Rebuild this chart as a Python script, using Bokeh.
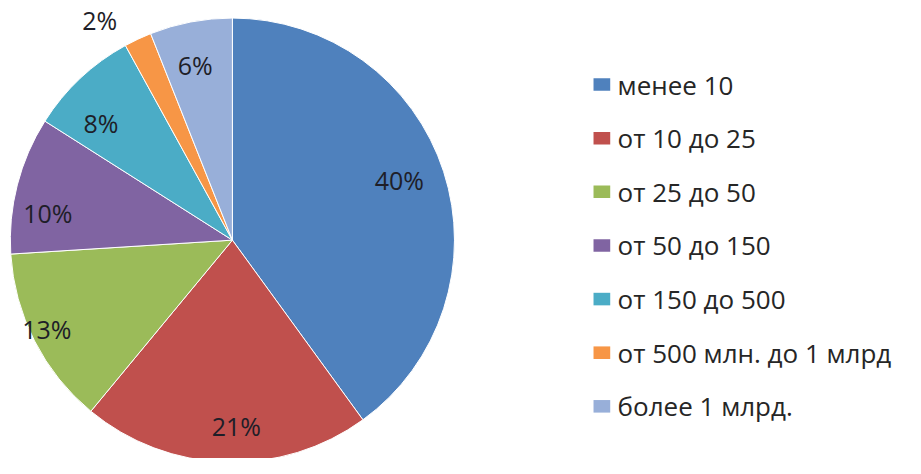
import math
from bokeh.plotting import figure
from bokeh.models import Range1d, ColumnDataSource
from bokeh.core.properties import value
from bokeh.embed import file_html
from bokeh.resources import INLINE

categories = ["менее 10", "от 10 до 25", "от 25 до 50", "от 50 до 150",
              "от 150 до 500", "от 500 млн. до 1 млрд", "более 1 млрд."]
shares = [40, 21, 13, 10, 8, 2, 6]
labels = ["40%", "21%", "13%", "10%", "8%", "2%", "6%"]
colors = ["#4F81BD", "#C0504D", "#9BBB59", "#8064A2", "#4BACC6", "#F79646", "#98AFD9"]
# label placement: radius factor and angle offset (degrees) relative to slice middle
label_rfac = [0.80, 0.85, 0.93, 0.84, 0.80, 1.17, 0.82]
label_dang = [2, 3, -1, 6, 4.5, 5.5, 1]

W, H = 905, 458
CX, CY, R = 236, -248, 226
FONT = "Open Sans"

p = figure(width=W, height=H, x_range=Range1d(0, 921), y_range=Range1d(-474, 0),
           output_backend="svg", toolbar_location=None, min_border=0)
p.axis.visible = False
p.grid.visible = False
p.outline_line_color = None
p.background_fill_color = "white"

total = float(sum(shares))
starts, ends, lx, ly = [], [], [], []
cum = 0.0
for s, f, da in zip(shares, label_rfac, label_dang):
    a0 = math.pi / 2 - 2 * math.pi * cum / total
    cum += s
    a1 = math.pi / 2 - 2 * math.pi * cum / total
    starts.append(a0)
    ends.append(a1)
    mid = (a0 + a1) / 2 + math.radians(da)
    lx.append(CX + f * R * math.cos(mid))
    ly.append(CY + f * R * math.sin(mid))

src = ColumnDataSource(dict(start=starts, end=ends, color=colors, lx=lx, ly=ly, label=labels))
p.wedge(x=CX, y=CY, radius=R, start_angle="start", end_angle="end", direction="clock",
        fill_color="color", line_color="white", line_width=1, source=src)
p.text(x="lx", y="ly", text="label", source=src, text_font=value(FONT),
       text_font_size="25px", text_align="center", text_baseline="middle", text_color="#1e1e28")

# legend
leg_y = [-(87 + 55.5 * i) for i in range(len(categories))]
leg = ColumnDataSource(dict(y=leg_y, color=colors, cat=categories))
p.rect(x=612, y="y", width=17, height=13, fill_color="color", line_color=None, source=leg)
p.text(x=628, y="y", text="cat", source=leg, text_font=value(FONT), text_font_size="26px",
       text_align="left", text_baseline="middle", text_color="#262626")

open("out.html", "w").write(file_html(p, INLINE))
